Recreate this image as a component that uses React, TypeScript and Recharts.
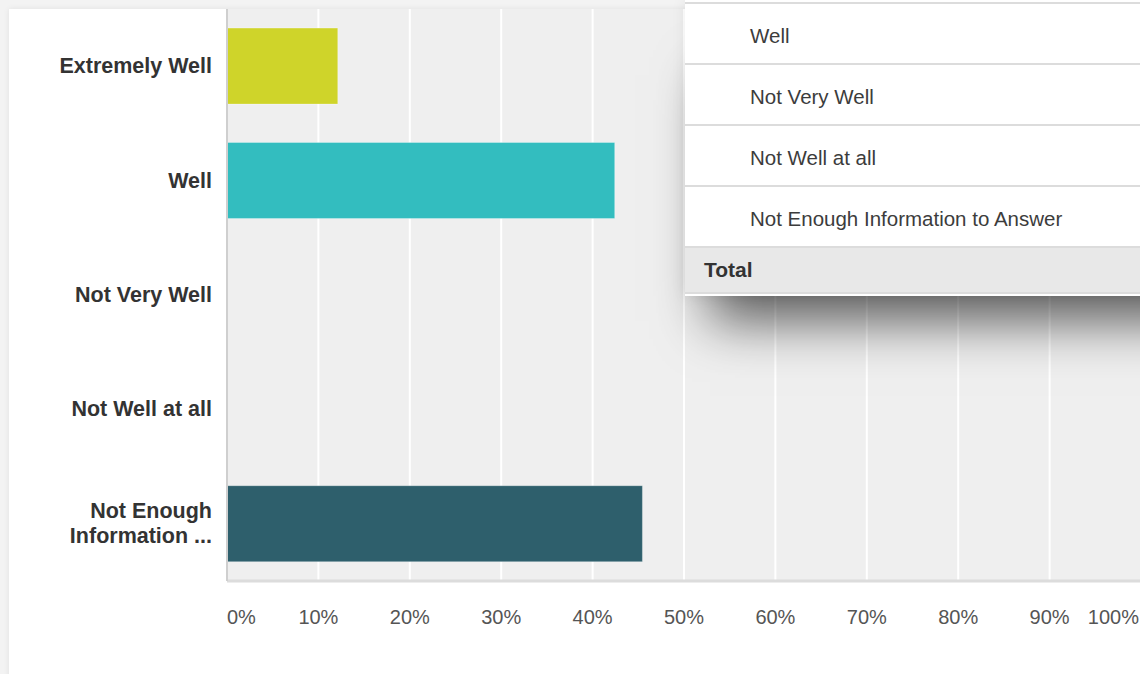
import React from "react";
import { BarChart, Bar, XAxis, YAxis, CartesianGrid, Cell } from "recharts";

const categories = [
  "Extremely Well",
  "Well",
  "Not Very Well",
  "Not Well at all",
  "Not Enough Information to Answer",
];
const percentages = [12.12, 42.42, 0, 0, 45.45];
const barColors = ["#cfd42a", "#33bdbf", "#8a8a8a", "#8a8a8a", "#2e5f6c"];
const yTickLines = [
  ["Extremely Well"],
  ["Well"],
  ["Not Very Well"],
  ["Not Well at all"],
  ["Not Enough", "Information ..."],
];
const xTicks = [0, 10, 20, 30, 40, 50, 60, 70, 80, 90, 100];
const tableRows = ["Well", "Not Very Well", "Not Well at all", "Not Enough Information to Answer"];
const totalLabel = "Total";

const data = categories.map((name, i) => ({ name, value: percentages[i], idx: i }));

const FONT = '"Liberation Sans", Arial, Helvetica, sans-serif';

const XTick = (props: any) => {
  const { x, y, payload, index } = props;
  const last = xTicks.length - 1;
  const anchor = index === 0 ? "start" : index === last ? "end" : "middle";
  const dx = index === 0 ? 0 : index === last ? -2 : 0;
  return (
    <text
      x={x + dx}
      y={y + 36}
      textAnchor={anchor}
      dominantBaseline="central"
      fill="#555"
      fontSize={20}
      fontFamily={FONT}
    >
      {payload.value + "%"}
    </text>
  );
};

const YTick = (props: any) => {
  const { x, y, payload } = props;
  const i = categories.indexOf(payload.value);
  const lines = yTickLines[i] || [payload.value];
  const lh = 25;
  const start = y - ((lines.length - 1) * lh) / 2;
  return (
    <text
      x={x}
      y={start}
      textAnchor="end"
      fill="#333"
      fontSize={21.5}
      fontWeight="bold"
      fontFamily={FONT}
    >
      {lines.map((l, k) => (
        <tspan key={k} x={x} y={start + k * lh} dominantBaseline="central">
          {l}
        </tspan>
      ))}
    </text>
  );
};

export default function App() {
  return (
    <div
      style={{
        position: "absolute",
        left: 0,
        top: 0,
        width: 1140,
        height: 674,
        overflow: "hidden",
        background: "#f3f3f3",
        fontFamily: FONT,
      }}
    >
      <div
        style={{
          position: "absolute",
          left: 9,
          top: 9,
          width: 1200,
          height: 720,
          background: "#fff",
          boxShadow: "0 0 6px rgba(0,0,0,0.08)",
        }}
      />
      <div style={{ position: "absolute", left: 0, top: 0 }}>
        <BarChart
          layout="vertical"
          width={1141}
          height={674}
          data={data}
          margin={{ top: 9, right: 0, bottom: 0, left: 0 }}
          barCategoryGap="16.7%"
        >
          <CartesianGrid
            horizontal={false}
            vertical={true}
            stroke="#ffffff"
            strokeWidth={2}
            fill="#efefef"
          />
          <XAxis
            type="number"
            domain={[0, 100]}
            ticks={xTicks}
            height={93}
            tickSize={0}
            tickMargin={0}
            tickLine={false}
            axisLine={{ stroke: "#dcdcdc", strokeWidth: 3 }}
            tick={<XTick />}
            interval={0}
          />
          <YAxis
            type="category"
            dataKey="name"
            width={227}
            tickSize={0}
            tickMargin={15}
            tickLine={false}
            axisLine={{ stroke: "#cfcfcf", strokeWidth: 2 }}
            tick={<YTick />}
            interval={0}
          />
          <Bar dataKey="value" isAnimationActive={false} stroke="rgba(255,255,255,0.3)" strokeWidth={1}>
            {data.map((d, i) => (
              <Cell key={i} fill={barColors[i]} />
            ))}
          </Bar>
        </BarChart>
      </div>
      <div
        style={{
          position: "absolute",
          left: 685,
          top: 0,
          width: 600,
          height: 296,
          background: "#fff",
          boxShadow: "0 50px 50px -25px rgba(0,0,0,0.62), 0 0 14px rgba(0,0,0,0.08)",
          boxSizing: "border-box",
          paddingTop: 2,
        }}
      >
        {tableRows.map((r, i) => (
          <div
            key={i}
            style={{
              height: 61,
              boxSizing: "border-box",
              borderTop: "2px solid #dcdcdc",
              paddingLeft: 65,
              paddingTop: 4,
              display: "flex",
              alignItems: "center",
              fontSize: 20.5,
              color: "#3c3c3c",
            }}
          >
            {r}
          </div>
        ))}
        <div
          style={{
            height: 48,
            boxSizing: "border-box",
            borderTop: "2px solid #dcdcdc",
            borderBottom: "2px solid #dcdcdc",
            background: "#e8e8e8",
            paddingLeft: 19,
            display: "flex",
            alignItems: "center",
            fontSize: 21,
            fontWeight: "bold",
            color: "#333",
          }}
        >
          {totalLabel}
        </div>
      </div>
    </div>
  );
}
